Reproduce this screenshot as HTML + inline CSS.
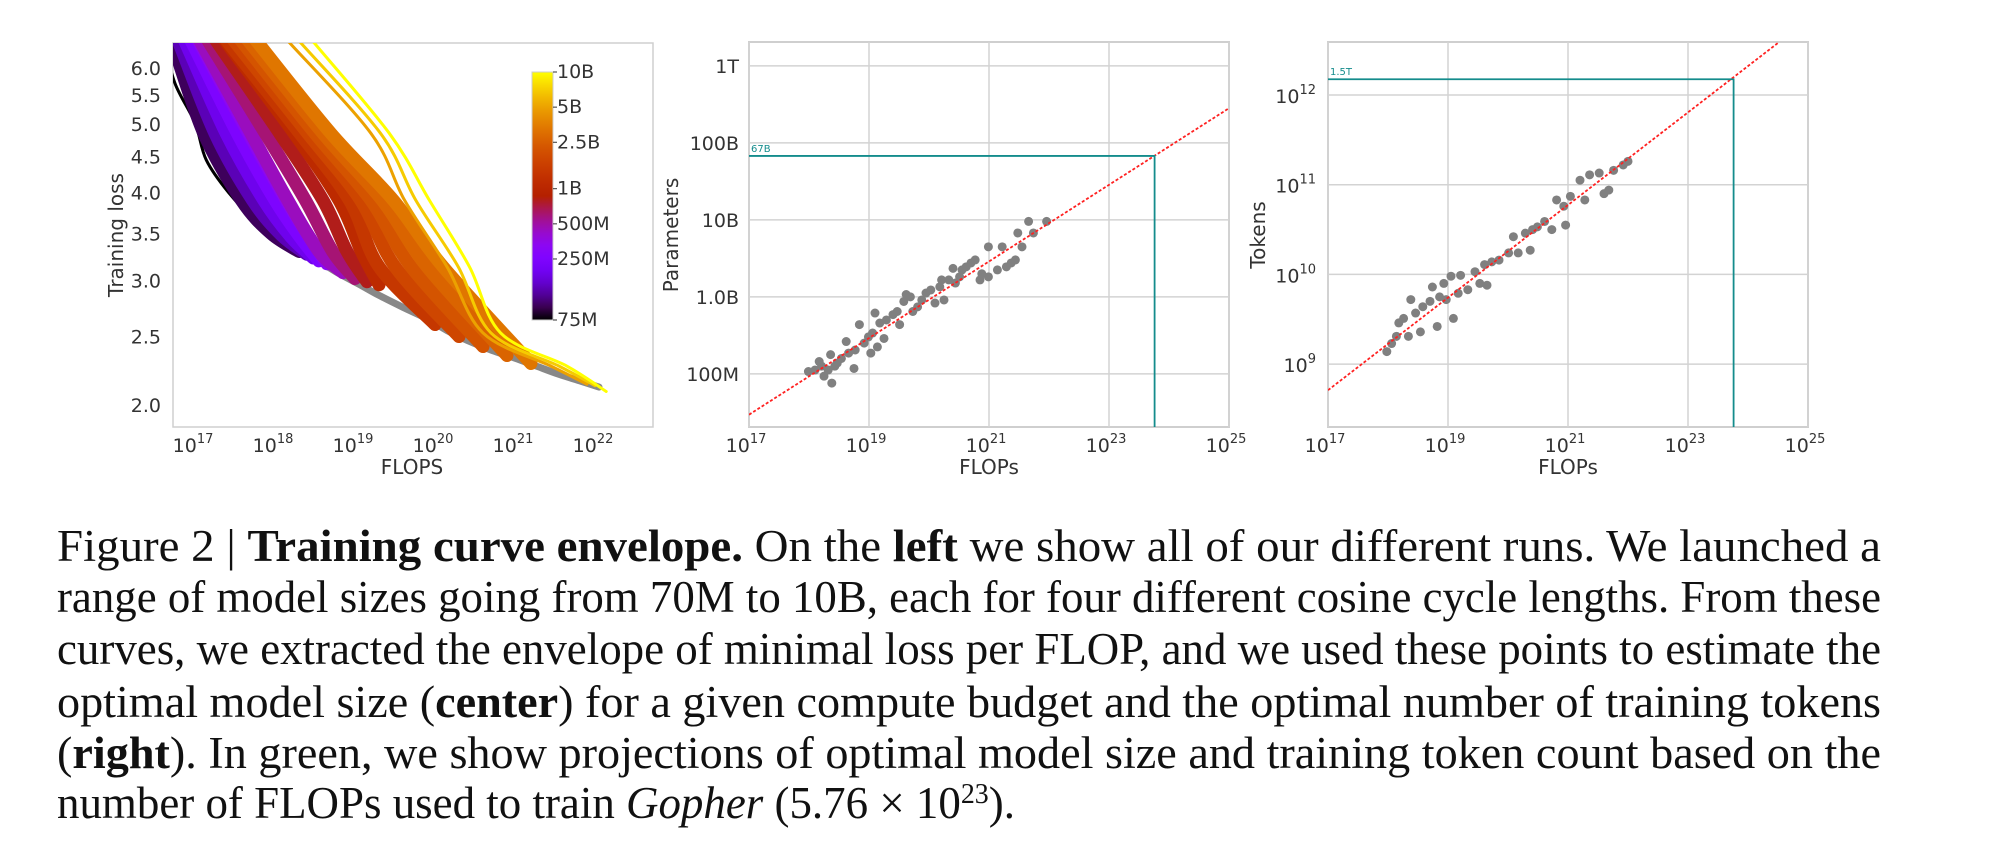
<!DOCTYPE html>
<html><head><meta charset="utf-8"><style>
html,body{margin:0;padding:0;background:#fff;}
svg{display:block;}
.tick{font-family:"DejaVu Sans","Liberation Sans",sans-serif;font-size:19px;fill:#333;}
.lab{font-family:"DejaVu Sans","Liberation Sans",sans-serif;font-size:20px;fill:#333;}
.cap{font-family:"Liberation Serif",serif;font-size:45px;fill:#111;}
</style></head><body>
<svg id="fig" width="2000" height="857" viewBox="0 0 2000 857" xmlns="http://www.w3.org/2000/svg">
<defs>
<clipPath id="clipL"><rect x="173" y="43" width="480" height="384"/></clipPath>
<clipPath id="clipC"><rect x="749" y="42" width="480" height="385"/></clipPath>
<clipPath id="clipR"><rect x="1328" y="42" width="480" height="385"/></clipPath>
<linearGradient id="cbgrad" x1="0" y1="1" x2="0" y2="0"></linearGradient>
</defs>
<rect width="2000" height="857" fill="#fff"/>
<g id="left"></g>
<g id="center"></g>
<g id="right"></g>
<g id="caption">
<text class="cap" x="57" y="561" textLength="1824" lengthAdjust="spacingAndGlyphs">Figure 2 | <tspan font-weight="bold">Training curve envelope.</tspan> On the <tspan font-weight="bold">left</tspan> we show all of our different runs. We launched a</text>
<text class="cap" x="57" y="612" textLength="1824" lengthAdjust="spacingAndGlyphs">range of model sizes going from 70M to 10B, each for four different cosine cycle lengths. From these</text>
<text class="cap" x="57" y="664" textLength="1824" lengthAdjust="spacingAndGlyphs">curves, we extracted the envelope of minimal loss per FLOP, and we used these points to estimate the</text>
<text class="cap" x="57" y="717" textLength="1824" lengthAdjust="spacingAndGlyphs">optimal model size (<tspan font-weight="bold">center</tspan>) for a given compute budget and the optimal number of training tokens</text>
<text class="cap" x="57" y="768" textLength="1824" lengthAdjust="spacingAndGlyphs">(<tspan font-weight="bold">right</tspan>). In green, we show projections of optimal model size and training token count based on the</text>
<text class="cap" x="57" y="818" textLength="958" lengthAdjust="spacingAndGlyphs">number of FLOPs used to train <tspan font-style="italic">Gopher</tspan> (5.76 × 10<tspan dy="-15" font-size="28">23</tspan><tspan dy="15">).</tspan></text>
</g>
</svg>
<script>
// ---------- DATA ----------
const curveSizes = [75e6,100e6,140e6,190e6,250e6,330e6,450e6,600e6,800e6,1.1e9,1.4e9,1.8e9,2.2e9,2.7e9,3.3e9,5e9,7e9,10e9];
// curve points: [log10 FLOPs, loss]
const curvePoints = [
 [[16.6,6.6],[16.75,5.71],[17.0,5.02],[17.14,4.45],[17.42,4.0],[17.75,3.66],[18.14,3.42],[18.48,3.23]],
 [[16.62,6.8],[16.70,6.6],[17.11,4.85],[17.58,3.9],[17.95,3.5],[18.3,3.3]],
 [[16.70,6.8],[16.78,6.6],[17.25,4.85],[17.72,3.9],[18.08,3.48],[18.4,3.27]],
 [[16.78,6.8],[16.86,6.6],[17.39,4.85],[17.86,3.9],[18.2,3.46],[18.48,3.23]],
 [[16.86,6.8],[16.94,6.6],[17.53,4.85],[18.0,3.9],[18.32,3.45],[18.55,3.2]],
 [[16.95,6.8],[17.03,6.6],[17.67,4.85],[18.14,3.9],[18.45,3.43],[18.65,3.17]],
 [[16.97,6.8],[17.05,6.6],[17.70,4.85],[18.16,3.9],[18.55,3.3],[18.85,3.08]],
 [[17.07,6.8],[17.15,6.6],[17.88,4.85],[18.38,3.9],[18.72,3.3],[19.0,3.02]],
 [[17.17,6.8],[17.25,6.6],[18.06,4.85],[18.6,3.9],[18.9,3.3],[19.15,2.99]],
 [[17.28,6.8],[17.36,6.6],[18.24,4.85],[18.8,3.9],[19.08,3.3],[19.3,2.96]],
 [[17.30,6.8],[17.38,6.6],[18.31,4.85],[18.93,3.9],[19.3,3.14],[20.0,2.6]],
 [[17.39,6.8],[17.47,6.6],[18.41,4.85],[19.07,3.9],[19.5,3.14],[20.3,2.5]],
 [[17.48,6.8],[17.56,6.6],[18.5,4.85],[19.2,3.9],[19.7,3.14],[20.6,2.42]],
 [[17.57,6.8],[17.65,6.6],[18.6,4.85],[19.34,3.9],[19.9,3.14],[20.9,2.35]],
 [[17.67,6.8],[17.75,6.6],[18.7,4.85],[19.48,3.9],[20.1,3.14],[21.2,2.29]],
 [[18.06,6.8],[18.14,6.6],[19.2,4.85],[19.62,3.9],[20.15,3.14],[20.6,2.53],[21.45,2.27],[21.9,2.14]],
 [[18.20,6.8],[18.28,6.6],[19.32,4.85],[19.76,3.9],[20.29,3.14],[20.7,2.53],[21.55,2.27],[22.0,2.13]],
 [[18.37,6.8],[18.45,6.6],[19.43,4.85],[19.93,3.9],[20.43,3.14],[20.82,2.53],[21.65,2.27],[22.14,2.09]]
];
const envelopeFlops = [18.48,18.6,18.8,19.04,19.3,19.6,19.9,20.15,20.4,20.71,21.0,21.27,21.55,21.83,22.05];
const envelopeLoss  = [3.23,3.17,3.07,2.97,2.86,2.75,2.65,2.55,2.47,2.39,2.33,2.27,2.21,2.16,2.12];
const lossTicks = [2.0,2.5,3.0,3.5,4.0,4.5,5.0,5.5,6.0];
const leftXTicks = [17,18,19,20,21,22];
const cbTicks = [75e6,250e6,500e6,1e9,2.5e9,5e9,10e9];
const cbLabels = ["75M","250M","500M","1B","2.5B","5B","10B"];

const cFlops = [17.99,18.10,18.21,18.17,18.25,18.38,18.32,18.43,18.47,18.36,18.54,18.62,18.66,18.75,18.84,18.77,18.92,18.99,19.06,19.03,19.14,19.25,19.10,19.18,19.29,19.40,19.47,19.51,19.58,19.62,19.69,19.73,19.81,19.88,19.95,20.03,20.10,20.18,20.21,20.25,20.33,20.40,20.44,20.51,20.55,20.62,20.70,20.77,20.85,20.88,20.99,20.99,21.14,21.22,21.29,21.37,21.44,21.55,21.48,21.66,21.74,21.96];
const cParams = [8.03,8.05,8.10,8.16,7.97,7.88,8.05,8.10,8.14,8.25,8.20,8.42,8.27,8.07,8.64,8.31,8.40,8.48,8.53,8.27,8.35,8.46,8.79,8.66,8.70,8.77,8.81,8.64,8.94,9.03,9.00,8.81,8.87,8.96,9.05,9.09,8.92,9.13,9.22,8.96,9.22,9.37,9.18,9.26,9.35,9.39,9.44,9.48,9.22,9.30,9.65,9.26,9.35,9.65,9.39,9.44,9.48,9.65,9.83,9.98,9.83,9.98];
const cFitX = [17,25];
const cFitY = [7.47,11.45];
const cYTicks = [8,9,10,11,12];
const cYLabels = ["100M","1.0B","10B","100B","1T"];
const rFlops = [17.98,18.06,18.14,18.18,18.26,18.34,18.38,18.46,18.54,18.58,18.70,18.74,18.82,18.86,18.93,18.97,19.09,19.05,19.17,19.21,19.33,19.45,19.53,19.65,19.61,19.73,19.85,20.01,20.09,20.17,20.29,20.37,20.41,20.49,20.61,20.73,20.81,20.93,20.96,21.04,21.20,21.28,21.36,21.52,21.60,21.68,21.76,21.92,22.00];
const rTokens = [9.14,9.23,9.31,9.46,9.51,9.31,9.72,9.57,9.36,9.64,9.70,9.86,9.42,9.75,9.90,9.72,9.51,9.98,9.79,9.99,9.83,10.03,9.90,9.88,10.11,10.14,10.16,10.24,10.42,10.24,10.46,10.27,10.50,10.53,10.59,10.50,10.83,10.76,10.55,10.87,11.05,10.83,11.11,11.13,10.90,10.94,11.16,11.22,11.26];
const rFitX = [17,24.52];
const rFitY = [8.71,12.59];
const rYTicks = [9,10,11,12];
const gridX = [17,19,21,23,25];
const gopherFlops = 23.76;
const gopherParams = 10.83;
const gopherTokens = 12.175;

// ---------- HELPERS ----------
const NS="http://www.w3.org/2000/svg";
function mk(tag,attrs,parent){const e=document.createElementNS(NS,tag);for(const k in attrs)e.setAttribute(k,attrs[k]);parent.appendChild(e);return e;}
function gnuplot(t){const r=Math.sqrt(t),g=t*t*t,b=Math.max(0,Math.sin(2*Math.PI*t));return `rgb(${Math.round(255*r)},${Math.round(255*g)},${Math.round(255*b)})`;}
function smooth(pts){let d=`M${pts[0][0]},${pts[0][1]}`;for(let i=0;i<pts.length-1;i++){const p0=pts[Math.max(0,i-1)],p1=pts[i],p2=pts[i+1],p3=pts[Math.min(pts.length-1,i+2)];const c1=[p1[0]+(p2[0]-p0[0])/6,p1[1]+(p2[1]-p0[1])/6],c2=[p2[0]-(p3[0]-p1[0])/6,p2[1]-(p3[1]-p1[1])/6];d+=`C${c1[0]},${c1[1]} ${c2[0]},${c2[1]} ${p2[0]},${p2[1]}`;}return d;}
function pow10Label(parent,x,y,exp,anchor,cls){const t=mk('text',{x:x,y:y,'text-anchor':anchor||'middle',class:cls||'tick'},parent);t.appendChild(document.createTextNode('10'));const s=mk('tspan',{dy:-9,'font-size':13},t);s.textContent=String(exp);return t;}

// ---------- LEFT ----------
const L=document.getElementById('left');
const lx=v=>195+(v-17)*80;
const ly=v=>405-(Math.log(v)-0.693)*306.5;
const lframe=mk('rect',{x:173,y:43,width:480,height:384,fill:'#fff',stroke:'#cfcfcf','stroke-width':1.5},L);


const lc=mk('g',{'clip-path':'url(#clipL)'},L);
const envPts=envelopeFlops.map((f,i)=>[lx(f),ly(envelopeLoss[i])]);
const env=mk('path',{d:smooth(envPts),fill:'none',stroke:'#888','stroke-width':7,'stroke-linecap':'round'},lc);


const lmin=Math.log10(75e6),lmax=Math.log10(10e9);
curvePoints.forEach((pts,i)=>{
  const t=(Math.log10(curveSizes[i])-lmin)/(lmax-lmin);
  const w=i>=15?3:(i===0?3:13);
  const p=mk('path',{d:smooth(pts.map(q=>[lx(q[0]),ly(q[1])])),fill:'none',stroke:gnuplot(t),'stroke-width':w,'stroke-linecap':'round'},lc);
  
  
});
lossTicks.forEach(v=>{const t=mk('text',{x:161,y:ly(v)+7,'text-anchor':'end',class:'tick'},L);t.textContent=v.toFixed(1);
  
  });
leftXTicks.forEach(v=>{const t=pow10Label(L,lx(v)-2,452,v);
  
  });
const lyl=mk('text',{x:0,y:0,transform:'translate(123,235) rotate(-90)','text-anchor':'middle',class:'lab'},L);lyl.textContent='Training loss';


const lxl=mk('text',{x:412,y:474,'text-anchor':'middle',class:'lab'},L);lxl.textContent='FLOPS';


const grad=document.getElementById('cbgrad');
for(let i=0;i<=20;i++){mk('stop',{offset:(i/20),'stop-color':gnuplot(i/20)},grad);}
const cby=n=>320-(Math.log10(n)-lmin)/(lmax-lmin)*248;
const cb=mk('rect',{x:532,y:72,width:21,height:248,fill:'url(#cbgrad)',stroke:'#ccc','stroke-width':1},L);


cbTicks.forEach((n,i)=>{mk('line',{x1:553,x2:557,y1:cby(n),y2:cby(n),stroke:'#333','stroke-width':1},L);
  const t=mk('text',{x:557,y:cby(n)+6,class:'tick','font-size':18},L);t.textContent=cbLabels[i];
  
  });

// ---------- scatter panels ----------
function panel(gid,x0,x1,y0,y1,dx0,dx1,dy0,dy1,xs,ys,fitX,fitY,yTicks,yLab,gY,gLabel,clip,ylabelText,ylabelX,tickRight){
  const G=document.getElementById(gid);
  const sx=v=>x0+(v-dx0)/(dx1-dx0)*(x1-x0);
  const sy=v=>y1-(v-dy0)/(dy1-dy0)*(y1-y0);
  const fr=mk('rect',{x:x0,y:y0,width:x1-x0,height:y1-y0,fill:'#fff',stroke:'#cfcfcf','stroke-width':2},G);
  
  
  gridX.forEach(v=>{const l=mk('line',{x1:sx(v),x2:sx(v),y1:y0,y2:y1,stroke:'#d3d3d3','stroke-width':1.5},G);
    
    
    const t=pow10Label(G,sx(v)-3,452,v);
    
    });
  yTicks.forEach((v,i)=>{const l=mk('line',{x1:x0,x2:x1,y1:sy(v),y2:sy(v),stroke:'#d3d3d3','stroke-width':1.5},G);
    
    
    let t;
    if(yLab){t=mk('text',{x:tickRight,y:sy(v)+7,'text-anchor':'end',class:'tick'},G);t.textContent=yLab[i];}
    else{t=pow10Label(G,tickRight,sy(v)+8,v,'end');}
    
    });
  const cg=mk('g',{'clip-path':`url(#${clip})`},G);
  xs.forEach((v,i)=>{const c=mk('circle',{cx:sx(v),cy:sy(ys[i]),r:4.5,fill:'#808080'},cg);
    
    });
  const fl=mk('line',{x1:sx(fitX[0]),y1:sy(fitY[0]),x2:sx(fitX[1]),y2:sy(fitY[1]),stroke:'#ff2020','stroke-width':1.8,'stroke-dasharray':'3,2'},cg);
  
  
  const gp=mk('polyline',{points:`${x0},${sy(gY)} ${sx(gopherFlops)},${sy(gY)} ${sx(gopherFlops)},${y1}`,fill:'none',stroke:'#148c8c','stroke-width':1.8},G);
  
  
  const gl=mk('text',{x:x0+2,y:sy(gY)-4,fill:'#148c8c','font-size':10,'font-family':'DejaVu Sans, sans-serif'},G);gl.textContent=gLabel;
  
  
  const xl=mk('text',{x:(x0+x1)/2,y:474,'text-anchor':'middle',class:'lab'},G);xl.textContent='FLOPs';
  
  
  const yl=mk('text',{x:0,y:0,transform:`translate(${ylabelX},235) rotate(-90)`,'text-anchor':'middle',class:'lab'},G);yl.textContent=ylabelText;
  
  
}
panel('center',749,1229,42,427,17,25,7.31,12.31,cFlops,cParams,cFitX,cFitY,cYTicks,cYLabels,gopherParams,'67B','clipC','Parameters',678,739);
panel('right',1328,1808,42,427,17,25,8.30,12.59,rFlops,rTokens,rFitX,rFitY,rYTicks,null,gopherTokens,'1.5T','clipR','Tokens',1265,1316);
</script>
</body></html>
